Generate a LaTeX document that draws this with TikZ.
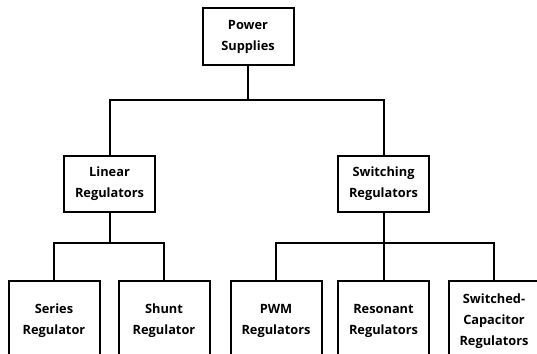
\documentclass[tikz,border=0pt]{standalone}
\usepackage{fontspec}
\setmainfont{Open Sans}
\begin{document}
\begin{tikzpicture}[x=1pt,y=-1pt,
  box/.style={draw, line width=2pt, minimum width=91pt, align=center,
    font=\bfseries\fontsize{12.8}{21}\selectfont, inner sep=0pt},
  topbox/.style={box, minimum height=56pt},
  leafbox/.style={box, minimum height=81pt},
  conn/.style={line width=2pt}]
\useasboundingbox (0,0) rectangle (537,353);
\clip (0,0) rectangle (537,353);
\node[topbox] (ps) at (248,36.5) {Power\\Supplies};
\node[topbox] (lin) at (109.5,184) {Linear\\Regulators};
\node[topbox] (sw) at (383.5,184) {Switching\\Regulators};
\node[leafbox] (ser) at (54,321) {Series\\Regulator};
\node[leafbox] (shu) at (164,321) {Shunt\\Regulator};
\node[leafbox] (pwm) at (276,321) {PWM\\Regulators};
\node[leafbox] (res) at (383.5,321) {Resonant\\Regulators};
\node[leafbox] (scr) at (494,321) {Switched-\\Capacitor\\Regulators};
\coordinate (j1) at (248,100);
\coordinate (j2) at (109.5,242.5);
\coordinate (j3) at (383.5,242.5);
\draw[conn] (ps.south) -- (j1);
\draw[conn] (lin.north) |- (j1) -| (sw.north);
\draw[conn] (lin.south) -- (j2);
\draw[conn] (ser.north) |- (j2) -| (shu.north);
\draw[conn] (sw.south) -- (res.north);
\draw[conn] (pwm.north) |- (j3) -| (scr.north);
\end{tikzpicture}
\end{document}
